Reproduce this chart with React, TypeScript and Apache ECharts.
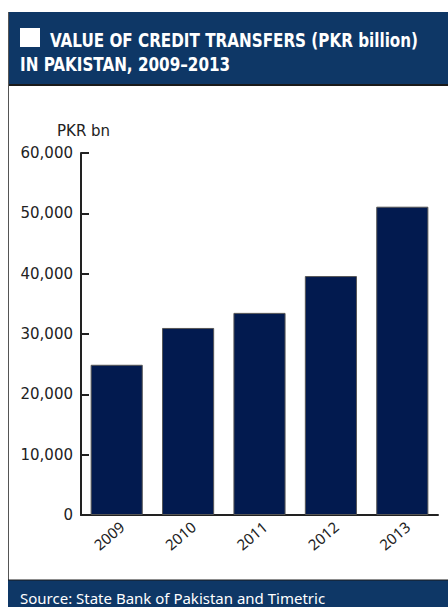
import React, { useEffect, useRef } from "react";
import * as echarts from "echarts";

const years = ["2009", "2010", "2011", "2012", "2013"];
const values = [24900, 31000, 33500, 39600, 51100];
const yTicks = { min: 0, max: 60000, interval: 10000 };
const titleLine1 = "VALUE OF CREDIT TRANSFERS (PKR billion)";
const titleLine2 = "IN PAKISTAN, 2009–2013";
const unitLabel = "PKR bn";
const sourceText = "Source: State Bank of Pakistan and Timetric";

const HEADER = "#0e3766";
const BAR = "#021a4f";
const TEXT = "#222";
const AXIS_FONT = "'DejaVu Sans', sans-serif";
const BODY_FONT = "'Noto Sans', sans-serif";
const TITLE_FONT = "'DejaVu Sans Condensed', 'DejaVu Sans', sans-serif";

export default function App() {
  const ref = useRef<HTMLDivElement>(null);
  useEffect(() => {
    if (!ref.current) return;
    const chart = echarts.init(ref.current, null, { renderer: "svg" });
    chart.setOption({
      animation: false,
      backgroundColor: "#fff",
      grid: { left: 81, right: 10, top: 153, bottom: 92, containLabel: false },
      xAxis: {
        type: "category",
        data: years,
        axisLine: { show: true, lineStyle: { color: TEXT, width: 2 } },
        axisTick: { show: false },
        axisLabel: {
          rotate: 40,
          color: TEXT,
          fontFamily: BODY_FONT,
          fontSize: 15,
          margin: 14,
          padding: [0, -7, 0, 0],
        },
      },
      yAxis: {
        type: "value",
        min: yTicks.min,
        max: yTicks.max,
        interval: yTicks.interval,
        splitLine: { show: false },
        axisLine: { show: true, lineStyle: { color: TEXT, width: 2 } },
        axisTick: { show: true, inside: true, length: 8, lineStyle: { color: TEXT, width: 2 } },
        axisLabel: {
          color: TEXT,
          fontFamily: AXIS_FONT,
          fontSize: 15,
          margin: 8,
          formatter: (v: number) => v.toLocaleString("en-US"),
        },
      },
      series: [
        {
          type: "bar",
          data: values,
          barWidth: "73%",
          itemStyle: { color: BAR, borderColor: "#555", borderWidth: 1 },
        },
      ],
      graphic: [
        { type: "rect", shape: { x: 8, y: 12, width: 440, height: 73 }, style: { fill: HEADER } },
        { type: "line", shape: { x1: 8, y1: 85, x2: 448, y2: 85 }, style: { stroke: "#1a1a1a", lineWidth: 2 } },
        { type: "line", shape: { x1: 8.5, y1: 12, x2: 8.5, y2: 607 }, style: { stroke: "#555", lineWidth: 1 } },
        { type: "rect", shape: { x: 20, y: 28, width: 20, height: 19 }, style: { fill: "#fff" } },
        {
          type: "text",
          x: 50,
          y: 50,
          scaleX: 0.845,
          style: { text: titleLine1, fill: "#fff", font: `bold 20px ${TITLE_FONT}`, textVerticalAlign: "bottom" },
        },
        {
          type: "text",
          x: 20,
          y: 74,
          scaleX: 0.845,
          style: { text: titleLine2, fill: "#fff", font: `bold 20px ${TITLE_FONT}`, textVerticalAlign: "bottom" },
        },
        {
          type: "text",
          x: 57,
          y: 131,
          style: { text: unitLabel, fill: TEXT, font: `15px ${AXIS_FONT}`, textVerticalAlign: "middle" },
        },
        { type: "rect", shape: { x: 8, y: 580, width: 440, height: 27 }, style: { fill: HEADER } },
        { type: "line", shape: { x1: 8, y1: 580, x2: 448, y2: 580 }, style: { stroke: "#1a1a1a", lineWidth: 1 } },
        {
          type: "text",
          x: 20,
          y: 598,
          style: { text: sourceText, fill: "#fff", font: `15px ${BODY_FONT}`, textVerticalAlign: "middle" },
        },
      ],
    });
    return () => chart.dispose();
  }, []);
  return (
    <div
      ref={ref}
      style={{ position: "fixed", left: 0, top: 0, width: 448, height: 607 }}
    />
  );
}
